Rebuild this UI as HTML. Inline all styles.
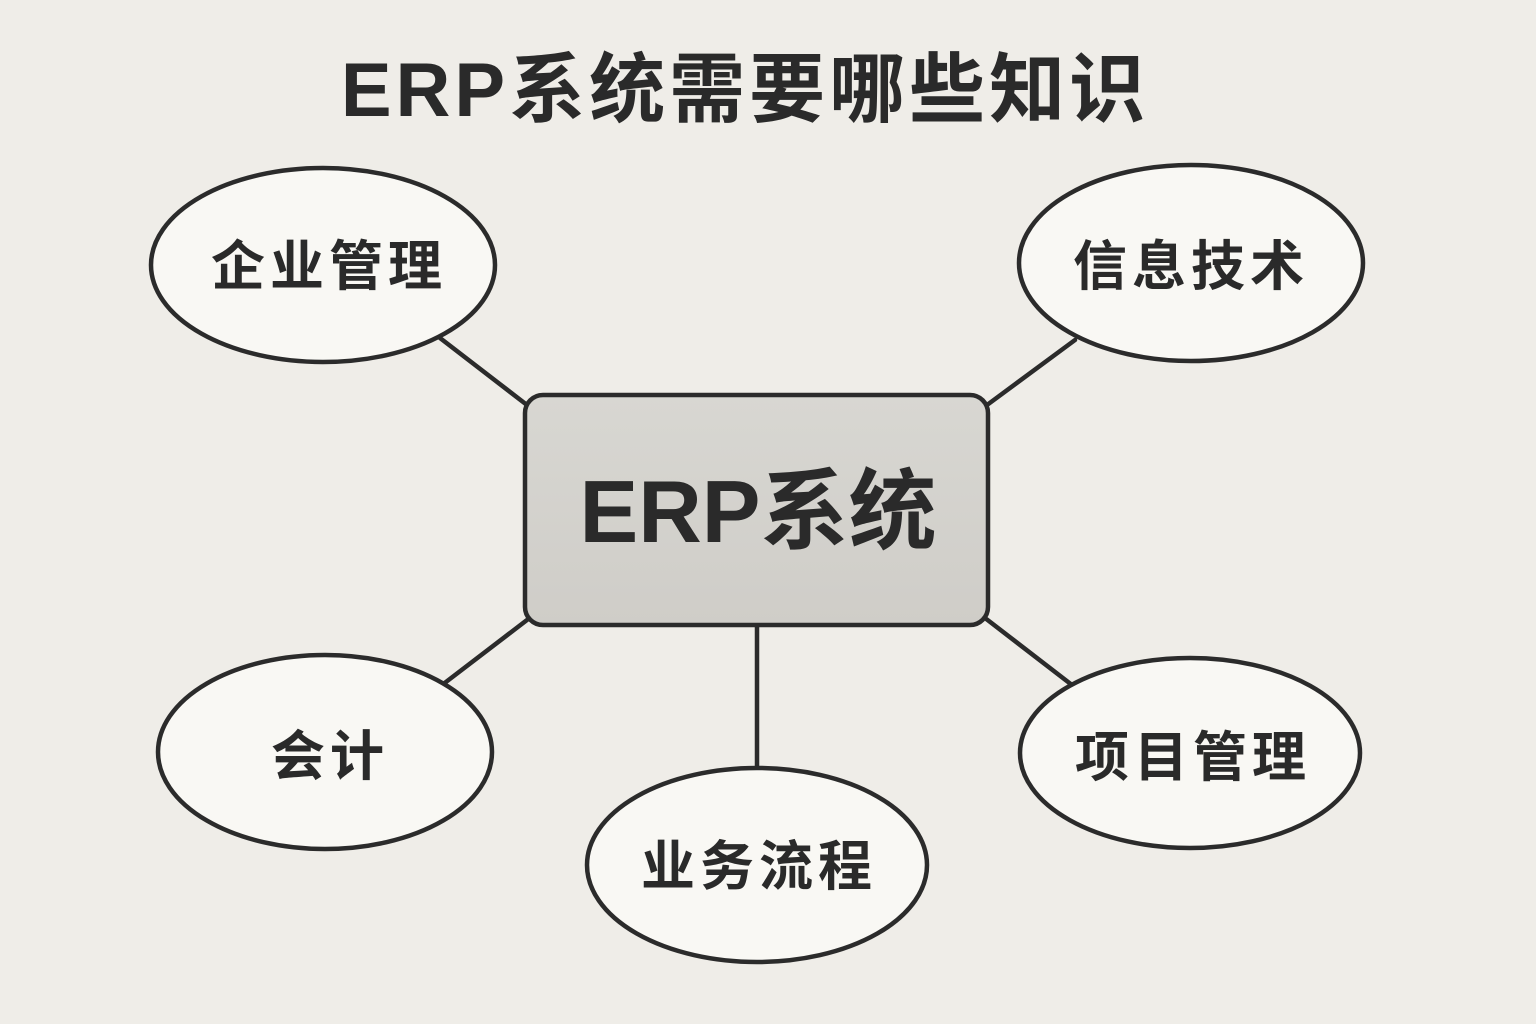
<!DOCTYPE html>
<html><head><meta charset="utf-8"><style>
html,body{margin:0;padding:0;background:#efede8;}
svg{display:block}
text{font-family:"Liberation Sans","Noto Sans CJK SC",sans-serif;font-weight:bold;fill:#2a2a2a;}
</style></head><body>
<svg width="1536" height="1024" viewBox="0 0 1536 1024" xmlns="http://www.w3.org/2000/svg">
<defs><linearGradient id="g" x1="0" y1="0" x2="0" y2="1"><stop offset="0" stop-color="#d8d7d2"/><stop offset="1" stop-color="#cfcdc8"/></linearGradient></defs>
<rect width="1536" height="1024" fill="#efede8"/>
<text x="745" y="116" font-size="76" letter-spacing="4" text-anchor="middle">ERP系统需要哪些知识</text>
<g stroke="#2b2b2b" stroke-width="4.5" fill="none" stroke-linecap="round">
<line x1="440" y1="338" x2="527" y2="405"/>
<line x1="1075" y1="340" x2="987" y2="405"/>
<line x1="527" y1="620" x2="442" y2="685"/>
<line x1="757" y1="625" x2="757" y2="770"/>
<line x1="985" y1="618" x2="1072" y2="685"/>
</g>
<g stroke="#2b2b2b" stroke-width="4.5" fill="#f9f8f4">
<ellipse cx="323" cy="265" rx="172" ry="97"/>
<ellipse cx="1191" cy="263" rx="172" ry="98"/>
<ellipse cx="325" cy="752" rx="167" ry="97"/>
<ellipse cx="757" cy="865" rx="170" ry="97"/>
<ellipse cx="1190" cy="753" rx="170" ry="95"/>
<rect x="525" y="395" width="463" height="230" rx="18" fill="url(#g)"/>
</g>
<g font-size="54" letter-spacing="5" text-anchor="middle">
<text x="329" y="285">企业管理</text>
<text x="1191" y="285">信息技术</text>
<text x="330" y="775">会计</text>
<text x="759" y="885">业务流程</text>
<text x="1193" y="776">项目管理</text>
</g>
<text x="758" y="542" font-size="88" text-anchor="middle">ERP系统</text>
</svg>
</body></html>
